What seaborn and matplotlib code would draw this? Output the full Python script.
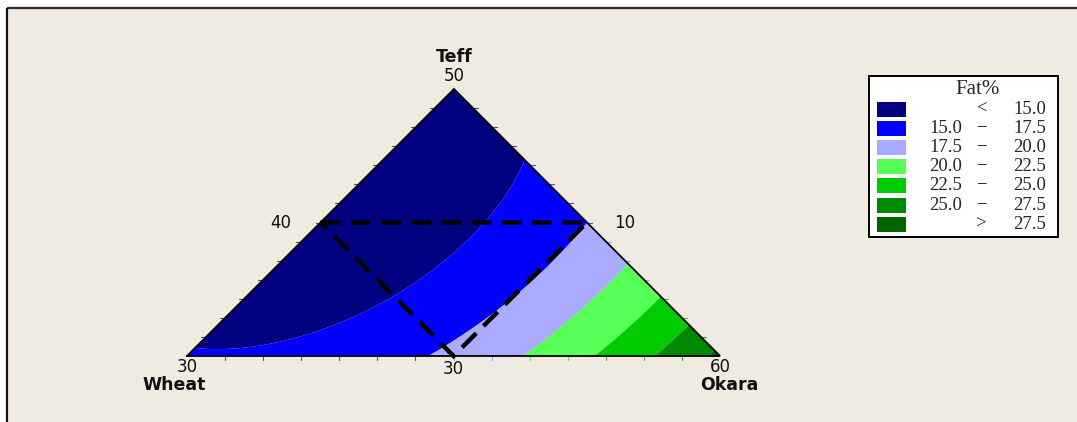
import numpy as np
import matplotlib
matplotlib.use("Agg")
import matplotlib.pyplot as plt
import matplotlib.tri as mtri
from matplotlib.colors import to_rgb
from matplotlib.patches import Rectangle, Polygon
import seaborn as sns

sns.set_theme(style="white")
plt.rcParams["font.family"] = ["DejaVu Sans"]

# ---------------------------------------------------------------- data
# Component ranges (%), order: Wheat, Teff, Okara
comp_names = ["Wheat", "Teff", "Okara"]
comp_low = [10.0, 30.0, 40.0]
comp_high = [30.0, 50.0, 60.0]

# Scheffe quadratic model for Fat% in pseudo-components (W, T, O)
lin_coef = [15.2, 14.08, 28.1]          # b_W, b_T, b_O
b_wt, b_wo, b_to = -5.7, -14.3, -14.38  # binary blending terms

# Contour classes
fat_levels = [15.0, 17.5, 20.0, 22.5, 25.0, 27.5]
fat_colors = ["#000080", "#0000FF", "#AAAAFF", "#55FF55",
              "#00CC00", "#008800", "#006400"]
legend_low = ["", "15.0", "17.5", "20.0", "22.5", "25.0", ""]
legend_mid = ["<", "\u2212", "\u2212", "\u2212", "\u2212", "\u2212", ">"]
legend_high = ["15.0", "17.5", "20.0", "22.5", "25.0", "27.5", "27.5"]

# Feasible region (dashed triangle), actual percentages
region_wheat = [20.0, 10.0, 20.0]
region_teff = [40.0, 40.0, 30.0]
region_okara = [40.0, 50.0, 50.0]

# Edge labels
label_top, label_left_mid, label_left = "50", "40", "30"
label_bottom_mid, label_right_mid, label_right = "30", "10", "60"

# ---------------------------------------------------------------- layout
W_PX, H_PX = 1077, 422
P_W = np.array([187.0, 356.0])   # Wheat vertex (pixels)
P_T = np.array([454.0, 89.0])    # Teff vertex
P_O = np.array([720.0, 356.0])   # Okara vertex
BG = "#EFEBE1"


def to_px(w, t, o):
    w, t, o = np.asarray(w), np.asarray(t), np.asarray(o)
    x = w * P_W[0] + t * P_T[0] + o * P_O[0]
    y = w * P_W[1] + t * P_T[1] + o * P_O[1]
    return x, y


def fat_model(w, t, o):
    return (lin_coef[0] * w + lin_coef[1] * t + lin_coef[2] * o
            + b_wt * w * t + b_wo * w * o + b_to * t * o)


def pseudo(val, i):
    return (np.asarray(val) - comp_low[i]) / (comp_high[i] - comp_low[i])


fig = plt.figure(figsize=(W_PX / 100, H_PX / 100), dpi=100)
fig.patch.set_facecolor("white")
ax = fig.add_axes([0, 0, 1, 1])
ax.set_xlim(0, W_PX)
ax.set_ylim(H_PX, 0)
ax.axis("off")

# panel background with top/left frame
ax.add_patch(Rectangle((7, 8), W_PX, H_PX, facecolor=BG, edgecolor="none", zorder=0))
ax.plot([7, W_PX], [8, 8], color="#2a2a2a", lw=1.6, zorder=1, solid_capstyle="butt")
ax.plot([7, 7], [8, H_PX], color="#111111", lw=1.6, zorder=1, solid_capstyle="butt")

# triangular grid over the simplex
n = 160
ws, ts, idx = [], [], {}
for i in range(n + 1):
    for j in range(n + 1 - i):
        idx[(i, j)] = len(ws)
        ws.append(i / n)
        ts.append(j / n)
ws = np.array(ws)
ts = np.array(ts)
os_ = np.clip(1 - ws - ts, 0, 1)
tris = []
for i in range(n):
    for j in range(n - i):
        tris.append([idx[(i, j)], idx[(i + 1, j)], idx[(i, j + 1)]])
        if i + j < n - 1:
            tris.append([idx[(i + 1, j)], idx[(i + 1, j + 1)], idx[(i, j + 1)]])
gx, gy = to_px(ws, ts, os_)
triang = mtri.Triangulation(gx, gy, np.array(tris))
zz = fat_model(ws, ts, os_)
bounds = [-100.0] + fat_levels + [100.0]
ax.tricontourf(triang, zz, levels=bounds, colors=fat_colors, zorder=2, antialiased=True)


def tick_color(v):
    c = np.array(to_rgb(fat_colors[int(np.searchsorted(fat_levels, v))]))
    return tuple(0.55 * c + 0.45 * np.array([0.6, 0.6, 0.85]))


# small ticks along the edges, coloured by the local class
n_div = 14
for k in range(1, n_div):
    f = k / n_div
    x, y = to_px(1 - f, f, 0.0)
    ax.plot([x - 5, x], [y, y], color=tick_color(fat_model(1 - f, f, 0.0)), lw=0.8, zorder=3)
    x, y = to_px(0.0, 1 - f, f)
    ax.plot([x, x + 5], [y, y], color=tick_color(fat_model(0.0, 1 - f, f)), lw=0.8, zorder=3)
    x, y = to_px(1 - f, 0.0, f)
    ax.plot([x, x], [y - 1, y + 4], color=tick_color(fat_model(1 - f, 0.0, f)), lw=0.8, zorder=3)

# simplex outline
ox, oy = to_px([1, 0, 0, 1], [0, 1, 0, 0], [0, 0, 1, 0])
ax.plot(ox, oy, color="black", lw=1.3, zorder=4, solid_joinstyle="miter")

# feasible region
rw, rt, ro = pseudo(region_wheat, 0), pseudo(region_teff, 1), pseudo(region_okara, 2)
rx, ry = to_px(rw, rt, ro)
ax.add_patch(Polygon(np.column_stack([rx, ry]), closed=True, fill=False,
                     edgecolor="black", lw=3.2, linestyle=(0, (4.5, 2.3)), zorder=5))

# axis labels
num_kw = dict(fontsize=12, color="#111111", ha="center", va="center", zorder=6)
name_kw = dict(fontsize=12.5, fontweight="bold", color="#111111", ha="center", va="center", zorder=6)
tx, ty = to_px(0, 1, 0)
ax.text(tx, ty - 13, label_top, **num_kw)
ax.text(tx, ty - 32, comp_names[1], **name_kw)
lx, ly = to_px(0.5, 0.5, 0)
ax.text(lx - 40, ly, label_left_mid, **num_kw)
mx, my = to_px(0, 0.5, 0.5)
ax.text(mx + 38, my, label_right_mid, **num_kw)
wx, wy = to_px(1, 0, 0)
ax.text(wx, wy + 11, label_left, **num_kw)
ax.text(wx - 13, wy + 29, comp_names[0], **name_kw)
bx, by = to_px(0.5, 0, 0.5)
ax.text(bx, by + 13, label_bottom_mid, **num_kw)
kx, ky = to_px(0, 0, 1)
ax.text(kx, ky + 11, label_right, **num_kw)
ax.text(kx + 9, ky + 29, comp_names[2], **name_kw)

# legend
L, T, R, B = 869, 76, 1058, 237
ax.add_patch(Rectangle((L, T), R - L, B - T, facecolor="white", edgecolor="black", lw=1.4, zorder=6))
serif = ["Liberation Serif", "DejaVu Serif"]
ax.text(978, 90, "Fat%", family=serif, fontsize=15, ha="center", va="center", zorder=7)
row_y0, row_dy = 109, 19.2
for r, col in enumerate(fat_colors):
    yc = row_y0 + r * row_dy
    ax.add_patch(Rectangle((877, yc - 7.5), 29, 15, facecolor=col, edgecolor="none", zorder=7))
    ax.text(962, yc, legend_low[r], family=serif, fontsize=13.5, ha="right", va="center", zorder=7)
    ax.text(981, yc, legend_mid[r], family=serif, fontsize=13.5, ha="center", va="center", zorder=7)
    ax.text(1046, yc, legend_high[r], family=serif, fontsize=13.5, ha="right", va="center", zorder=7)

fig.savefig("out.png", dpi=100, facecolor="white")
